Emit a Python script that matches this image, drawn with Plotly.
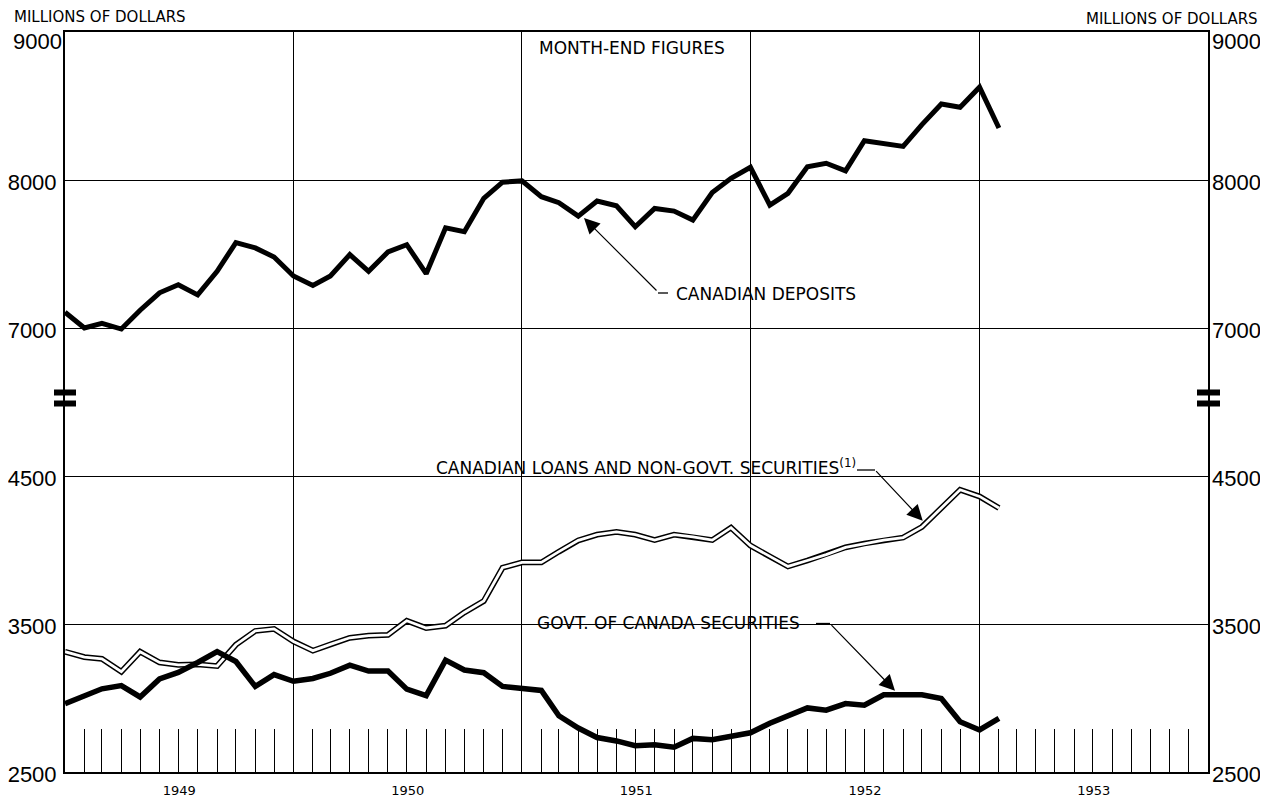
import pandas as pd
import plotly.graph_objects as go

# ---------------- data (month-end figures, millions of dollars) ----------------
# one value per month end; first value = end of Dec 1948, last = end of Jan 1953
month_ends = pd.date_range("1949-01-01", periods=50, freq="MS")

canadian_deposits = [
    7107, 7000, 7032, 6993, 7120, 7238, 7292, 7224, 7383, 7577, 7541, 7480,
    7351, 7288, 7351, 7496, 7383, 7514, 7563, 7367, 7677, 7650, 7876, 7985,
    7994, 7887, 7847, 7756, 7858, 7826, 7684, 7808, 7790, 7729, 7915, 8011,
    8086, 7830, 7910, 8090, 8113, 8062, 8265, 8249, 8227, 8374, 8514, 8491,
    8627, 8351,
]

canadian_loans_non_govt = [
    3313, 3276, 3264, 3178, 3313, 3240, 3224, 3227, 3216, 3360, 3453, 3467,
    3382, 3320, 3362, 3407, 3422, 3427, 3522, 3473, 3489, 3578, 3655, 3880,
    3916, 3916, 3989, 4065, 4104, 4122, 4104, 4067, 4104, 4089, 4067, 4151,
    4030, 3956, 3889, 3929, 3969, 4018, 4044, 4067, 4084, 4156, 4284, 4407,
    4362, 4284,
]

govt_of_canada_securities = [
    2962, 3018, 3062, 3084, 3007, 3129, 3173, 3240, 3313, 3247, 3078, 3158,
    3113, 3132, 3167, 3222, 3182, 3182, 3060, 3016, 3256, 3189, 3171, 3078,
    3069, 3051, 2880, 2797, 2733, 2710, 2678, 2684, 2667, 2727, 2718, 2744,
    2765, 2829, 2884, 2933, 2918, 2962, 2951, 3022, 3022, 3022, 2996, 2840,
    2784, 2862,
]

# broken scale: upper section 7000-9000, lower section 2500-4500
lower_tick_values = [2500, 3500, 4500]
upper_tick_values = [7000, 8000, 9000]
scale_break_offset = 1500          # 7000 is drawn where 5500 would be
year_range = ["1949-01-01", "1954-01-01"]

# ---------------- derived axis settings ----------------
all_vals = lower_tick_values + [v - scale_break_offset for v in upper_tick_values]
all_text = [str(v) for v in lower_tick_values + upper_tick_values]
# the top label (9000) sits just below the frame, so it gets its own axis
body_vals, body_text = all_vals[:-1], all_text[:-1]
top_vals, top_text = all_vals[-1:], all_text[-1:]
deposits_plotted = [v - scale_break_offset for v in canadian_deposits]
y_range = [min(all_vals), max(all_vals)]

# window geometry (pixels); the page body has an 8px margin
WIN_W, WIN_H = 1268, 799
PAGE_MARGIN = 8
W, H = WIN_W - PAGE_MARGIN, WIN_H - PAGE_MARGIN
L, R, T, B = 65, 1208, 32, 772          # plot area in window pixels


def px(x):
    return (x - L) / (R - L)


def py(y):
    return (B - y) / (B - T)


LABEL_FONT = dict(family="DejaVu Sans, Verdana, sans-serif", size=17, color="black")
SMALL_FONT = dict(family="DejaVu Sans, Verdana, sans-serif", size=15, color="black")
NUM_FONT = dict(family="Liberation Sans, Arial, sans-serif", size=22, color="black")

fig = go.Figure()

# loans: double line (black outline with white core)
fig.add_trace(go.Scatter(x=month_ends, y=canadian_loans_non_govt, mode="lines",
                         line=dict(color="black", width=5.8), hoverinfo="skip",
                         showlegend=False, yaxis="y"))
fig.add_trace(go.Scatter(x=month_ends, y=canadian_loans_non_govt, mode="lines",
                         line=dict(color="white", width=2.8),
                         name="Canadian loans and non-govt. securities", showlegend=False,
                         yaxis="y3"))
# government securities
fig.add_trace(go.Scatter(x=month_ends, y=govt_of_canada_securities, mode="lines",
                         line=dict(color="black", width=5.5),
                         name="Govt. of Canada securities", showlegend=False, yaxis="y4"))
# deposits (upper section of the broken scale)
fig.add_trace(go.Scatter(x=month_ends, y=deposits_plotted, mode="lines",
                         line=dict(color="black", width=5),
                         customdata=canadian_deposits,
                         hovertemplate="%{x|%b %Y}: %{customdata}<extra></extra>",
                         name="Canadian deposits", showlegend=False, yaxis="y2"))

common = dict(range=y_range, tickfont=NUM_FONT, ticks="", zeroline=False,
              fixedrange=True, automargin=False)

fig.update_layout(
    width=W, height=H,
    margin=dict(l=L - PAGE_MARGIN, r=WIN_W - R, t=T - PAGE_MARGIN, b=WIN_H - B,
                autoexpand=False),
    paper_bgcolor="white", plot_bgcolor="white",
    showlegend=False,
    xaxis=dict(type="date", range=year_range, dtick="M12", tick0="1949-01-01",
               tickformat="%Y", ticklabelmode="period", ticks="",
               ticklabelstandoff=5, automargin=False,
               tickfont=dict(family="DejaVu Sans, Verdana, sans-serif", size=13, color="black"),
               showgrid=True, gridcolor="black", gridwidth=1.3,
               showline=True, linecolor="black", linewidth=2, mirror=True,
               minor=dict(dtick="M1", tick0="1949-01-01", ticks="inside", ticklen=43,
                          tickcolor="black", tickwidth=1.1, showgrid=False),
               zeroline=False, fixedrange=True),
    # left: grid + labels 2500..8000
    yaxis=dict(**common, tickvals=all_vals, ticktext=body_text + [""],
               showgrid=True, gridcolor="black", gridwidth=1.3,
               showline=True, linecolor="black", linewidth=2, mirror=True,
               ticklabelstandoff=2, ticklabelshift=2),
    # right: labels 2500..8000
    yaxis2=dict(**common, tickvals=body_vals, ticktext=body_text, overlaying="y",
                side="right", showgrid=False, showline=False,
                ticklabelstandoff=3, ticklabelshift=2),
    # left: top label 9000
    yaxis3=dict(**common, tickvals=top_vals, ticktext=top_text, overlaying="y",
                side="left", showgrid=False, showline=False,
                ticklabelstandoff=2, ticklabelshift=9),
    # right: top label 9000
    yaxis4=dict(**common, tickvals=top_vals, ticktext=top_text, overlaying="y",
                side="right", showgrid=False, showline=False,
                ticklabelstandoff=3, ticklabelshift=9),
)

shapes = []
# masks behind the labels (hide grid lines, keep data lines)
for (x0, x1, y0, y1) in [(670, 868, 278, 308), (425, 886, 457, 483), (525, 840, 608, 637)]:
    shapes.append(dict(type="rect", xref="paper", yref="paper", layer="between",
                       x0=px(x0), x1=px(x1), y0=py(y1), y1=py(y0),
                       fillcolor="white", line=dict(width=0)))
# scale-break marks on both axes
for (x0, x1) in [(54, 76), (1197, 1220)]:
    for (y0, y1) in [(389.5, 395.5), (400.5, 406.5)]:
        shapes.append(dict(type="rect", xref="paper", yref="paper", layer="above",
                           x0=px(x0), x1=px(x1), y0=py(y1), y1=py(y0),
                           fillcolor="black", line=dict(width=0)))
# short horizontal leader segments next to the labels
for (x0, x1, y) in [(658, 668, 293), (857, 875, 470), (816, 830, 623.5)]:
    shapes.append(dict(type="line", xref="paper", yref="paper", layer="above",
                       x0=px(x0), x1=px(x1), y0=py(y), y1=py(y),
                       line=dict(color="black", width=1.3)))
fig.update_layout(shapes=shapes)

annotations = [
    dict(text="MILLIONS OF DOLLARS", x=px(12), y=py(17), xanchor="left", yanchor="middle",
         font=SMALL_FONT),
    dict(text="MILLIONS OF DOLLARS", x=px(1260), y=py(19), xanchor="right", yanchor="middle",
         font=SMALL_FONT),
    dict(text="MONTH-END FIGURES", x=px(537), y=py(48), xanchor="left", yanchor="middle",
         font=LABEL_FONT),
    dict(text="CANADIAN DEPOSITS", x=px(674), y=py(294), xanchor="left", yanchor="middle",
         font=LABEL_FONT),
    dict(text="CANADIAN LOANS AND NON-GOVT. SECURITIES<sup>(1)</sup>", x=px(434), y=py(467),
         xanchor="left", yanchor="middle", font=LABEL_FONT),
    dict(text="GOVT. OF CANADA SECURITIES", x=px(535), y=py(622.5), xanchor="left",
         yanchor="middle", font=LABEL_FONT),
]
# leader arrows: tip (x, y) and tail offset (ax, ay) in pixels
for (tx, ty, ax, ay) in [(584, 218, 74, 74), (922.7, 520.7, -48, -51), (895, 690.7, -65, -67)]:
    annotations.append(dict(text="", x=px(tx), y=py(ty), showarrow=True,
                            ax=ax, ay=ay, arrowhead=2, arrowsize=2.6, arrowwidth=1.2,
                            arrowcolor="black", standoff=0, startstandoff=0))
for a in annotations:
    a.setdefault("xref", "paper")
    a.setdefault("yref", "paper")
    a.setdefault("showarrow", False)
fig.update_layout(annotations=annotations)

fig.write_html("out.html")
